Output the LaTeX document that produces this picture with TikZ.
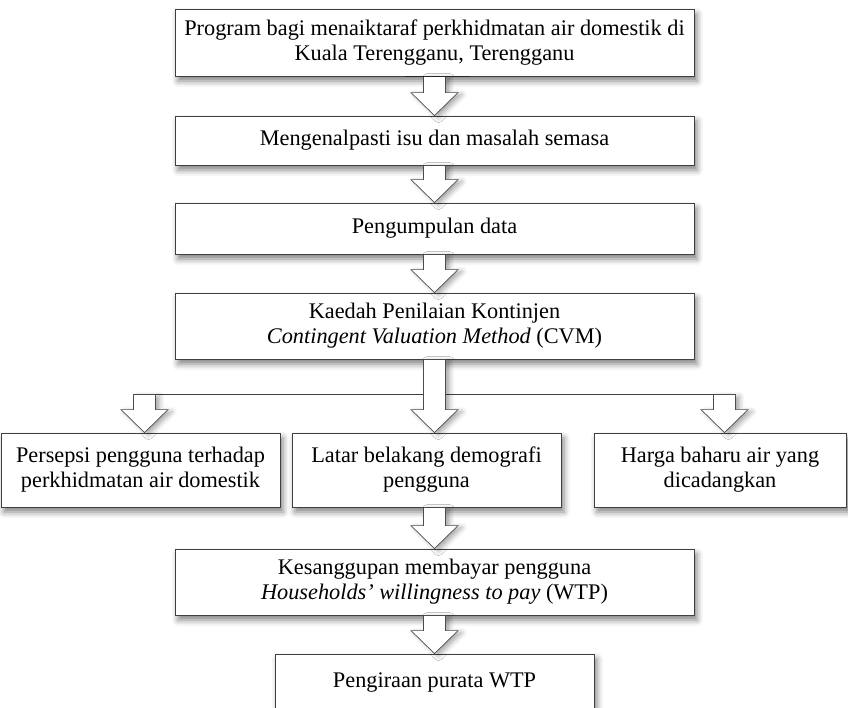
\documentclass[tikz,border=0pt]{standalone}
\usepackage{fontspec}
\setmainfont{Liberation Serif}
\usetikzlibrary{calc,shadows.blur}
\newcommand\blockarrow[2]{%
  \path[barrow] let \p1=(#1), \p2=(#2) in
    (\x1-11pt,\y1) -- (\x1+11pt,\y1) -- (\x1+11pt,\y2+23pt) -- (\x1+23.5pt,\y2+23pt)
    -- (\x1,\y2) -- (\x1-23.5pt,\y2+23pt) -- (\x1-11pt,\y2+23pt) -- cycle;}
\begin{document}
\begin{tikzpicture}[x=1pt,y=-1pt,
  box/.style={draw=black!75, line width=0.8pt, fill=white, rectangle, inner sep=0pt,
    align=center, font=\fontsize{22.3}{25}\selectfont,
    blur shadow={shadow xshift=3pt, shadow yshift=-5pt, shadow blur radius=6pt, shadow opacity=50}},
  barrow/.style={draw=black!70, line width=0.7pt, fill=white, line join=miter,
    blur shadow={shadow xshift=4pt, shadow yshift=-2pt, shadow blur radius=5pt, shadow opacity=35}},
  hline/.style={draw=black!75, line width=1.3pt}]
\useasboundingbox (0,0) rectangle (848,707);
\node[box, minimum width=519pt, minimum height=67pt] (b1) at (434.5,42.5)
  {Program bagi menaiktaraf perkhidmatan air domestik di\\Kuala Terengganu, Terengganu};
\node[box, minimum width=519pt, minimum height=49pt] (b2) at (434.5,140.5)
  {Mengenalpasti isu dan masalah semasa};
\node[box, minimum width=519pt, minimum height=51pt] (b3) at (434.5,228.5)
  {Pengumpulan data};
\node[box, minimum width=519pt, minimum height=66pt] (b4) at (434.5,326)
  {Kaedah Penilaian Kontinjen\\\textit{Contingent Valuation Method} (CVM)};
\node[box, minimum width=279pt, minimum height=74pt] (rA) at (140.5,470)
  {Persepsi pengguna terhadap\\perkhidmatan air domestik};
\node[box, minimum width=269pt, minimum height=74pt] (rB) at (426.5,470)
  {Latar belakang demografi\\pengguna};
\node[box, minimum width=252pt, minimum height=74pt] (rC) at (720,470)
  {Harga baharu air yang\\dicadangkan};
\node[box, minimum width=519pt, minimum height=66pt] (b6) at (434.5,582)
  {Kesanggupan membayar pengguna\\\textit{Households’ willingness to pay} (WTP)};
\node[box, minimum width=319pt, minimum height=58pt] (b7) at (434.5,683)
  {Pengiraan purata WTP};
\coordinate (jl) at (144.5,394.5);
\coordinate (jr) at (724.5,394.5);
\draw[hline] ($(jl)+(-11.5,0)$) -- ($(jr)+(11.5,0)$);
\blockarrow{b1.south}{b1.south |- b2.north}
\draw[line width=1.8pt, black!85] ($(b1.south)+(-30,0)$) -- ($(b1.south)+(35,0)$);
\blockarrow{b2.south}{b2.south |- b3.north}
\blockarrow{b3.south}{b3.south |- b4.north}
\blockarrow{b4.south}{b4.south |- rB.north}
\blockarrow{jl}{jl |- rA.north}
\blockarrow{jr}{jr |- rC.north}
\blockarrow{b6.north |- rB.south}{b6.north}
\blockarrow{b6.south}{b6.south |- b7.north}
\end{tikzpicture}
\end{document}
